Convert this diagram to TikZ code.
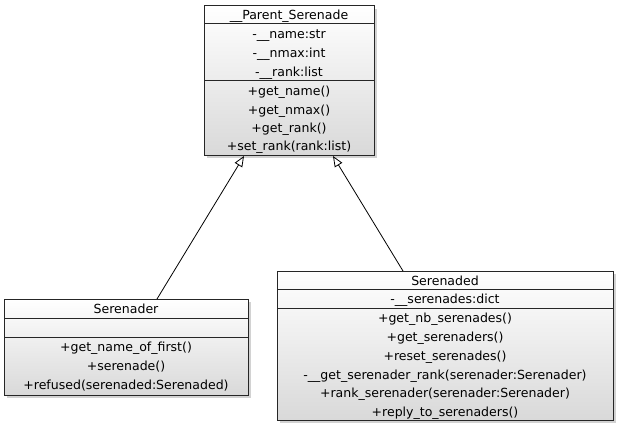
\documentclass[tikz,border=0pt]{standalone}
\usepackage{fontspec}
\setmainfont{DejaVu Sans}
\usetikzlibrary{shadows,arrows.meta,fit}
\begin{document}
\begin{tikzpicture}[x=0.75pt,y=-0.75pt,
 classbox/.style={draw=black!85, line width=0.75pt, top color=white, bottom color=black!15,
   drop shadow={shadow xshift=2.2pt, shadow yshift=-2.2pt, fill=black!35, opacity=0.5}, inner sep=0pt},
 txt/.style={font=\fontsize{9.4}{11}\selectfont, inner sep=0pt, text height=1.55ex, text depth=0.45ex},
 sep/.style={draw=black!85, line width=0.75pt},
 inherit/.style={draw=black, line width=0.6pt, -{Triangle[open, length=8pt, width=6.5pt]}}]
\useasboundingbox (0,0) rectangle (621,428);
% Parent
\node[classbox, fit={(204,6)(374,155)}] (parent) {};
\draw[sep] (204,24) -- (374,24);
\draw[sep] (204,81) -- (374,81);
\node[txt] (p0) at (289,15) {\_\_Parent\_Serenade};
\node[txt] (p1) at (289,34) {-\_\_name:str};
\node[txt] (p2) at (289,53) {-\_\_nmax:int};
\node[txt] (p3) at (289,72) {-\_\_rank:list};
\node[txt] (p4) at (289,91) {+get\_name()};
\node[txt] (p5) at (289,110) {+get\_nmax()};
\node[txt] (p6) at (289,128) {+get\_rank()};
\node[txt] (p7) at (289,146) {+set\_rank(rank:list)};
% Serenader
\node[classbox, fit={(4,299)(248,395)}] (ser) {};
\draw[sep] (4,318) -- (248,318);
\draw[sep] (4,337) -- (248,337);
\node[txt] (s0) at (126,309) {Serenader};
\node[txt] (s1) at (126,347) {+get\_name\_of\_first()};
\node[txt] (s2) at (126,366) {+serenade()};
\node[txt] (s3) at (126,385) {+refused(serenaded:Serenaded)};
% Serenaded
\node[classbox, fit={(277,271)(613,420)}] (sed) {};
\draw[sep] (277,289) -- (613,289);
\draw[sep] (277,308) -- (613,308);
\node[txt] (d0) at (445,281) {Serenaded};
\node[txt] (d1) at (445,299) {-\_\_serenades:dict};
\node[txt] (d2) at (445,318) {+get\_nb\_serenades()};
\node[txt] (d3) at (445,337) {+get\_serenaders()};
\node[txt] (d4) at (445,356) {+reset\_serenades()};
\node[txt] (d5) at (445,375) {-\_\_get\_serenader\_rank(serenader:Serenader)};
\node[txt] (d6) at (445,393) {+rank\_serenader(serenader:Serenader)};
\node[txt] (d7) at (445,412) {+reply\_to\_serenaders()};
% inheritance
\coordinate (a1) at (157,299);
\coordinate (t1) at (244,156);
\coordinate (a2) at (403,271);
\coordinate (t2) at (333,156);
\draw[inherit] (a1) -- (t1);
\draw[inherit] (a2) -- (t2);
\end{tikzpicture}
\end{document}
